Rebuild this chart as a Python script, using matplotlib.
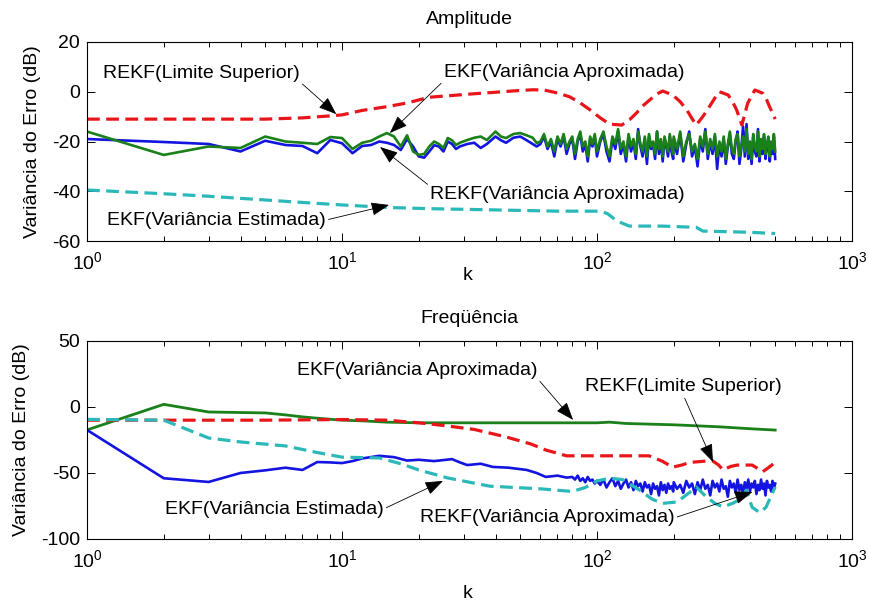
import numpy as np
import matplotlib.pyplot as plt

plt.rcParams['font.family'] = 'Liberation Sans'
plt.rcParams['mathtext.fontset'] = 'custom'
plt.rcParams['mathtext.rm'] = 'Liberation Sans'
plt.rcParams['mathtext.it'] = 'Liberation Sans:italic'
plt.rcParams['axes.unicode_minus'] = False

RED = '#e8161b'
BLUE = '#1414e0'
GREEN = '#1a801a'
CYAN = '#2bb8b8'
FS = 14

# ---- Amplitude (top) ----
amp_red_k = [1, 3, 5, 7, 9, 10, 12, 15, 18, 22, 27, 33, 40, 48, 56, 62, 70, 78, 86, 94,
             103, 112, 125, 135, 143, 152, 161, 171, 181, 198, 212, 225, 235, 245, 260,
             276, 290, 302, 327, 340, 353, 370, 390, 416, 447, 462, 475, 488, 500]
amp_red_v = [-11, -11, -11, -10.5, -9.7, -9.3, -7.5, -6, -4.5, -2.2, -1.5, -0.8, -0.2, 0.4,
             0.8, 0.7, -0.5, -2, -4.5, -7.3, -10.5, -13, -13.4, -11, -8.5, -5.5, -3.3, -1,
             0.3, -1.3, -4, -7.3, -10.5, -13.4, -10, -6, -2.5, 0, -1.3, -4, -7.3, -13.4,
             -4.6, 0.7, -0.6, -3, -6, -8.5, -11]

amp_cyan_k = [1, 2, 3, 5, 7, 10, 15, 22, 40, 70, 103, 110, 120, 134, 180, 245, 260, 400, 500]
amp_cyan_v = [-39.5, -41, -42, -43.5, -44.5, -45.5, -46.5, -47, -47.5, -48, -48, -49, -52,
              -54, -54, -54.5, -56, -56.5, -57]

amp_smooth_k = [1, 2, 3, 4, 5, 6, 7, 8, 9, 10, 11, 12, 13, 14, 15, 16, 17, 18, 19, 20, 21,
                22, 23, 24, 25, 26, 27, 28, 29, 31, 33, 35, 37, 40, 42, 44, 47, 50, 53, 56, 58]
amp_green_v = [-16, -25.4, -22, -22.6, -18, -20, -20.5, -21, -18.2, -18.6,
               -23, -20.5, -19.7, -18, -16.6, -18, -22, -17.5, -24, -25.4,
               -25, -22, -20, -21, -22.6, -18.6, -19.5, -21.4, -20.5, -19.4,
               -18.5, -18, -19.4, -16, -18, -18.6, -17, -16.6, -17.5, -18.5,
               -20.6]
amp_blue_v = [-19, -20.2, -21, -24, -19.7, -21.4, -21.8, -24.7, -19.4, -20.7,
              -24.7, -21.8, -21.4, -20, -20.5, -21.4, -23.4, -19, -22, -26,
              -26.5, -24, -21.5, -22, -24, -20, -21, -23, -22, -21,
              -20.5, -22.6, -21, -18, -19.5, -20.5, -18.5, -18, -19.5, -21,
              -22]

# noisy tail, k = 60..500
noise_k = list(range(60, 100, 2)) + list(range(100, 200, 3)) + list(range(200, 501, 6))
amp_green_noise = [-20, -17, -22, -19, -24, -18, -21, -17, -23, -20,
                   -18, -25, -19, -16, -22, -20, -26, -18, -21, -17,
                   -24, -19, -16, -22, -26, -18, -21, -15, -23, -20,
                   -26, -17, -22, -19, -25, -16, -21, -24, -18, -26,
                   -17, -22, -20, -25, -16, -23, -19, -26, -18, -21,
                   -24, -17, -22, -25,
                   -18, -23, -16, -26, -20, -17, -24, -21, -27, -18,
                   -22, -16, -25, -19, -23, -17, -26, -20, -24, -18,
                   -27, -21, -16, -23, -25, -19, -17, -26, -22, -18,
                   -24, -15, -25, -20, -27, -17, -22, -24, -16, -26,
                   -19, -23, -17, -25, -21, -18, -26, -20, -23, -17,
                   -24]
amp_blue_noise = [-21, -18, -23, -20, -26, -19, -22, -18, -25, -21,
                  -19, -27, -20, -17, -24, -21, -28, -19, -22, -18,
                  -26, -20, -17, -24, -28, -19, -23, -16, -25, -21,
                  -28, -18, -24, -20, -27, -15, -22, -26, -19, -29,
                  -18, -23, -21, -27, -16, -25, -20, -28, -19, -22,
                  -26, -18, -24, -27,
                  -19, -25, -17, -28, -21, -16, -26, -22, -30, -19,
                  -24, -15, -27, -20, -25, -18, -31, -21, -26, -19,
                  -29, -22, -17, -25, -27, -20, -16, -29, -23, -14,
                  -26, -13, -27, -21, -29, -18, -24, -26, -15, -28,
                  -20, -25, -18, -27, -22, -19, -28, -21, -25, -18,
                  -27]

# ---- Frequencia (bottom) ----
frq_green_k = [1, 2, 3, 4, 5, 6, 7, 8, 10, 12, 15, 20, 30, 50, 80, 100, 112, 130, 200, 300, 400, 500]
frq_green_v = [-17.4, 2, -3.8, -4.2, -4.5, -6, -7.5, -8.5, -10, -10.5, -11.5, -12, -12, -12,
               -12, -12, -11.5, -12.5, -13.5, -15, -16.5, -17.5]

frq_red_k = [1, 2, 5, 10, 15, 20, 25, 33, 44, 55, 63, 76, 100, 160, 180, 198, 215, 231,
             283, 300, 312, 335, 355, 406, 430, 447, 470, 500]
frq_red_v = [-10, -10, -10, -9.5, -10, -12, -14, -17, -22.7, -28, -32.6, -37, -37, -37,
             -41, -45.6, -44, -42, -40.6, -44, -47.7, -45, -44, -44, -47, -49, -46, -42]

frq_cyan_k = [1, 2, 3, 4, 6, 8, 10, 14, 17, 20, 26, 38, 60, 80, 90, 100, 112, 126, 147,
              165, 181, 206, 230, 245, 268, 290, 312, 340, 365, 385, 406, 435, 460, 480, 500]
frq_cyan_v = [-9.4, -10, -23.5, -26.5, -29.5, -34.5, -38, -38.6, -43, -47.7,
              -53.8, -60, -62, -64, -61, -56, -54, -55, -63, -70,
              -73, -72, -65, -60.6, -68, -73, -75.7, -73, -70, -63,
              -76, -80, -76, -68, -60.6]

frq_blue_k = [1, 2, 3, 4, 5, 6, 7, 8, 9, 10, 11, 12, 14, 16, 18, 20, 23, 27, 29, 31, 35,
              39, 45, 53, 58, 63, 70, 76]
frq_blue_v = [-17.4, -54, -56.8, -50, -48, -46, -47.7, -41.7, -42, -42.5,
              -41, -39, -37, -38, -40.6, -40, -41, -39.5, -42, -44,
              -43, -45.4, -46, -47.7, -50, -53, -52, -53.5]
frq_noise_k = list(range(80, 100, 2)) + list(range(100, 200, 3)) + list(range(200, 501, 6))
frq_blue_noise = [-53, -55, -52, -56, -54, -57, -53, -56, -55, -58,
                  -56, -59, -55, -61, -57, -54, -60, -56, -62, -58,
                  -55, -61, -57, -63, -56, -60, -58, -64, -57, -61,
                  -59, -66, -58, -62, -60, -67, -57, -63, -59, -65,
                  -58, -62, -60, -64,
                  -57, -62, -59, -65, -56, -61, -58, -66, -57, -63,
                  -55, -62, -59, -67, -56, -61, -58, -64, -55, -62,
                  -60, -68, -56, -61, -58, -65, -55, -63, -59, -66,
                  -57, -62, -55, -64, -58, -61, -56, -66, -59, -63,
                  -55, -62, -58, -67, -56, -61, -59, -64, -56, -62,
                  -58]

dash = (0, (4, 2))

fig = plt.figure(figsize=(8.69, 6.0), dpi=100)
ax1 = fig.add_axes([0.1001, 0.5983, 0.8803, 0.3317])
ax2 = fig.add_axes([0.1001, 0.1017, 0.8803, 0.33])

# top
ax1.plot(amp_smooth_k + noise_k, amp_blue_v + amp_blue_noise, color=BLUE, lw=1.9)
ax1.plot(amp_smooth_k + noise_k, amp_green_v + amp_green_noise, color=GREEN, lw=1.9)
ax1.plot(amp_red_k, amp_red_v, color=RED, lw=2.3, linestyle=dash)
ax1.plot(amp_cyan_k, amp_cyan_v, color=CYAN, lw=2.3, linestyle=dash)

# bottom
ax2.plot(frq_green_k, frq_green_v, color=GREEN, lw=2)
ax2.plot(frq_red_k, frq_red_v, color=RED, lw=2.3, linestyle=dash)
ax2.plot(frq_blue_k + frq_noise_k, frq_blue_v + frq_blue_noise, color=BLUE, lw=1.9)
ax2.plot(frq_cyan_k, frq_cyan_v, color=CYAN, lw=2.3, linestyle=dash)

for ax, ylim, yt in [(ax1, (-60, 20), [-60, -40, -20, 0, 20]),
                     (ax2, (-100, 50), [-100, -50, 0, 50])]:
    ax.set_xscale('log')
    ax.set_xlim(1, 1000)
    ax.set_ylim(*ylim)
    ax.set_yticks(yt)
    ax.tick_params(which='both', direction='in', top=True, right=True, labelsize=FS)
    ax.tick_params(which='major', length=6, width=0.7)
    ax.tick_params(which='minor', length=3.5, width=0.7)
    ax.tick_params(axis='x', pad=7)
    ax.tick_params(axis='y', pad=5)
    for s in ax.spines.values():
        s.set_linewidth(0.8)

ax1.set_title('Amplitude', fontsize=FS, pad=13)
ax2.set_title('Freqüência', fontsize=FS, pad=13)
ax1.set_xlabel('k', fontsize=FS)
ax2.set_xlabel('k', fontsize=FS)
ax1.xaxis.set_label_coords(0.497, -0.13)
ax2.xaxis.set_label_coords(0.497, -0.23)
ax1.set_ylabel('Variância do Erro (dB)', fontsize=FS)
ax2.set_ylabel('Variância do Erro (dB)', fontsize=FS)
ax1.yaxis.set_label_coords(-0.071, 0.5)
ax2.yaxis.set_label_coords(-0.085, 0.5)
ax1.yaxis.label.set_va('center')
ax2.yaxis.label.set_va('center')


def note(ax, txt, xy, xytext, rel):
    ax.annotate(txt, xy=xy, xytext=xytext, ha='left', va='center', fontsize=FS,
                arrowprops=dict(arrowstyle='-|>,head_length=0.8,head_width=0.3',
                                color='k', lw=0.6, relpos=rel, shrinkA=0, shrinkB=0,
                                mutation_scale=14))


note(ax1, 'REKF(Limite Superior)', (9.5, -9), (1.155, 7.5), (1, 0))
note(ax1, 'EKF(Variância Aproximada)', (15.4, -16.6), (25.1, 7.9), (0, 0))
note(ax1, 'REKF(Variância Aproximada)', (14.1, -22.2), (22.2, -41.5), (0, 1))
note(ax1, 'EKF(Variância Estimada)', (15.3, -45.5), (1.198, -51.6), (1, 0.5))

note(ax2, 'EKF(Variância Aproximada)', (80.6, -9.8), (6.66, 28), (1, 0))
note(ax2, 'REKF(Limite Superior)', (285, -41.7), (89.8, 15.2), (0.5, 0))
note(ax2, 'EKF(Variância Estimada)', (24.9, -56), (2.02, -77.3), (1, 0.5))
note(ax2, 'REKF(Variância Aproximada)', (407, -64.4), (20.2, -84), (1, 0.5))

fig.savefig('out.png', dpi=100)
